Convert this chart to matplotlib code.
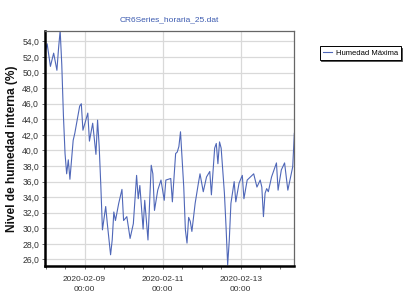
import numpy as np
import pandas as pd
import matplotlib
matplotlib.use("Agg")
import matplotlib.pyplot as plt
import matplotlib.dates as mdates

# hours since 2020-02-08 00:00 and humidity readings
hours = [0, 1, 3, 5, 7, 8, 9, 10, 11, 12, 13, 14, 15, 17, 18, 21, 22, 23,
         26, 27, 29, 31, 32, 33, 34, 35, 37, 38, 40, 41, 42, 43, 45, 47, 48,
         50, 52, 54, 56, 57, 58, 60, 61, 63, 65, 66, 67, 69, 71, 73, 74, 77,
         78, 80, 81, 82, 83, 85, 86, 87, 88, 89, 90, 92, 94, 95, 97, 99, 101,
         102, 104, 105, 106, 107, 108, 110, 111, 112, 113, 114, 116, 117, 119,
         121, 122, 124, 126, 128, 130, 132, 133, 134, 135, 136, 137, 139, 142,
         143, 145, 147, 149, 152, 153]
humedad_max = [52.9, 53.7, 50.8, 52.5, 50.3, 53.1, 55.4, 51.0, 44.5, 39.6,
               37.0, 38.8, 36.3, 41.3, 42.2, 45.7, 46.0, 42.6,
               44.8, 41.2, 43.5, 39.5, 43.9, 40.5, 35.5, 29.8, 32.8, 30.6, 26.6,
               28.5, 32.1, 31.0, 33.2, 35.0, 31.0,
               31.5, 28.7, 30.6, 36.8, 33.8, 35.5, 29.9, 33.6, 28.5, 38.1, 37.0,
               32.3, 34.9, 36.2, 33.6, 36.2, 36.4,
               33.4, 39.6, 39.8, 40.5, 42.4, 35.3, 29.8, 28.1, 31.4, 30.9, 29.6,
               33.2, 35.8, 37.0, 34.7, 36.6, 37.3,
               34.3, 40.3, 40.9, 38.3, 41.1, 40.3, 34.5, 30.2, 25.3, 28.5, 33.2,
               36.0, 33.4, 35.8,
               36.8, 33.8, 36.2, 36.6, 37.0, 35.3, 36.2, 35.3, 31.5, 34.5, 35.1,
               34.7, 36.6, 38.4,
               34.9, 37.5, 38.4, 34.9, 37.9, 42.2]

start = pd.Timestamp("2020-02-08 00:00")
times = start + pd.to_timedelta(hours, unit="h")

plt.rcParams['font.family'] = ['Liberation Sans', 'DejaVu Sans']

fig = plt.figure(figsize=(4.14, 2.94), dpi=100)
ax = fig.add_axes([0.108, 0.095, 0.601, 0.801])

ax.plot(times, humedad_max, color='#4f67b8', lw=0.8, label='Humedad Máxima')

ax.set_xlim(pd.Timestamp("2020-02-07 23:30"), pd.Timestamp("2020-02-14 08:30"))
ax.set_ylim(25.15, 55.4)

ax.set_yticks(np.arange(26, 55, 2))
ax.set_yticklabels([f"{v:.1f}".replace('.', ',') for v in np.arange(26, 55, 2)],
                   fontsize=6.2, color='#333333')
ax.xaxis.set_major_locator(mdates.DayLocator(interval=2, bymonthday=[9, 11, 13]))
ax.xaxis.set_major_formatter(mdates.DateFormatter('%Y-%m-%d\n%H:%M'))
ax.xaxis.set_minor_locator(mdates.HourLocator(byhour=[0, 12]))
for lab in ax.get_xticklabels():
    lab.set_fontsize(6.0)
    lab.set_color('#333333')
    lab.set_linespacing(1.55)

ax.tick_params(axis='both', which='both', length=2, width=0.6, color='#555555', pad=2)
ax.tick_params(axis='x', which='both', pad=5)
ax.grid(True, which='major', color='#d9d9d9', lw=0.9)
ax.set_axisbelow(True)

for s in ['left', 'bottom']:
    ax.spines[s].set_linewidth(1.8)
    ax.spines[s].set_color('black')
for s in ['top', 'right']:
    ax.spines[s].set_linewidth(0.9)
    ax.spines[s].set_color('#666666')

ax.set_title('CR6Series_horaria_25.dat', fontsize=6.0, color='#3c5bb0', pad=7)
ax.set_ylabel('Nivel de humedad interna (%)', fontsize=8.6, fontweight='bold',
              color='#111111', labelpad=3)

leg = fig.legend(loc='upper left', bbox_to_anchor=(0.772, 0.843), fontsize=5.5,
                 frameon=True, fancybox=False,
                 shadow={'ox': 1.0, 'oy': -1.0, 'color': '#555555', 'alpha': 1.0},
                 handlelength=1.2, handletextpad=0.5, borderpad=0.4, borderaxespad=0)
leg.get_frame().set_edgecolor('black')
leg.get_frame().set_linewidth(0.7)

fig.savefig('out.png', dpi=100)
